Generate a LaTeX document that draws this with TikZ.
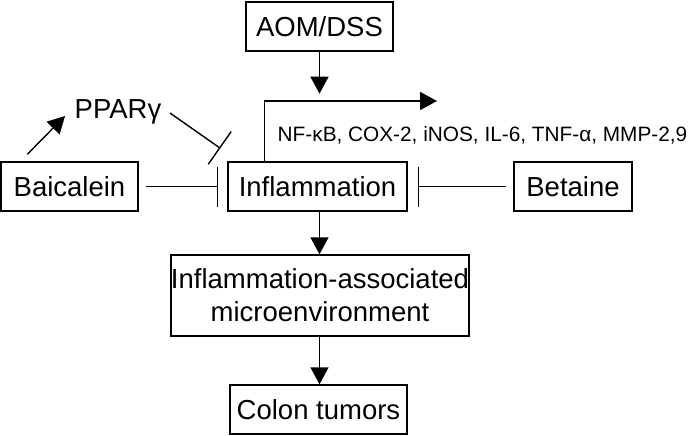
\documentclass[tikz,border=0pt]{standalone}
\usepackage{fontspec}
\setmainfont{Liberation Sans}
\usetikzlibrary{arrows.meta}
\begin{document}
\begin{tikzpicture}
[x=1pt,y=-1pt,line width=1.4pt, b/.style={draw,inner sep=0pt,minimum height=49pt,font=\fontsize{27.5}{33}\selectfont},
a/.style={-{Triangle[length=17pt,width=18pt]}}, t/.style={-{Bar[width=40pt]}}]
\useasboundingbox (0,0) rectangle (688,436);
\node(aom) at (319.5,26.5)[b,minimum width=147pt]{AOM/DSS};\node(infl) at (317.5,186.5)[b,minimum width=179pt]{Inflammation};
\node(baic) at (69.5,186.5)[b,minimum width=137pt]{Baicalein};\node(beta) at (573,186.5)[b,minimum width=118pt]{Betaine};
\node(micro) at (320,295.5)[b,minimum width=196pt,minimum height=81pt,align=center]{Inflammation-associated\\microenvironment};
\node(colon) at (318.5,409.5)[b,minimum width=177pt]{Colon tumors};
\node(ppar) at (118,112)[inner sep=0pt,font=\fontsize{27.5}{33}\selectfont]{PPARγ};
\node(nf) at (277,135)[anchor=west,inner sep=0pt,font=\fontsize{20.8}{25}\selectfont]{NF-κB, COX-2, iNOS, IL-6, TNF-α, MMP-2,9};
\coordinate(aomend) at ([shift={(0,42)}]aom.south);
\coordinate(nfend) at (437,101);\coordinate(pparend) at ([shift={(-7,-13)}]infl.north west);
\draw[a](aom.south)--(aomend);\draw[a](infl.south-|aom.south)--(micro.north-|aom.south);\draw[a](micro.south-|aom.south)--(colon.north-|aom.south);
\draw[a]([shift={(37,0)}]infl.north west)|-(nfend);
\draw[a]([shift={(27,-7)}]baic.north west)--([shift={(-9,4)}]ppar.west);
\draw[t]([shift={(8,1)}]ppar.east)--(pparend);
\draw[t,shorten <=7pt,shorten >=9pt](baic)--(infl);\draw[t,shorten <=7pt,shorten >=10pt](beta)--(infl);
\end{tikzpicture}
\end{document}
